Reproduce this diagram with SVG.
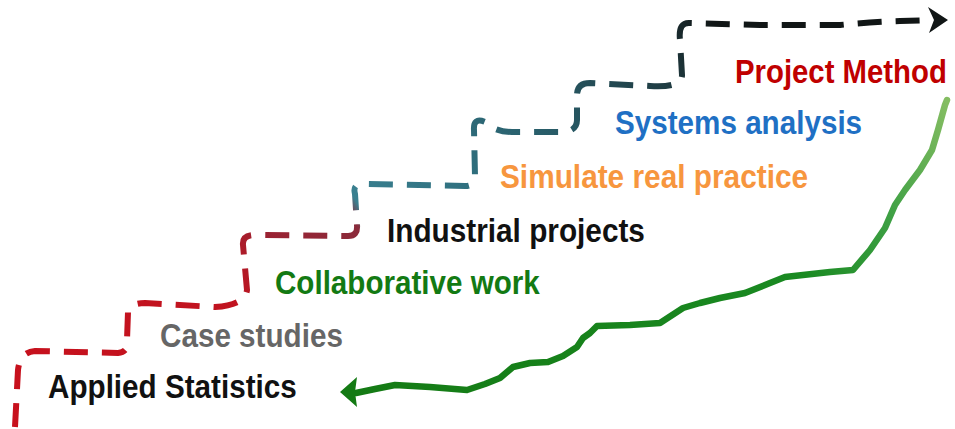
<svg xmlns="http://www.w3.org/2000/svg" width="955" height="429" viewBox="0 0 955 429">
  <defs>
    <!-- colour ramp along the climbing dashed staircase -->
    <linearGradient id="stairGrad" gradientUnits="userSpaceOnUse" x1="0" y1="429" x2="700" y2="0">
      <stop offset="0" stop-color="#c8101c"/>
      <stop offset="0.33" stop-color="#c01420"/>
      <stop offset="0.40" stop-color="#9a2232"/>
      <stop offset="0.50" stop-color="#8a2a3a"/>
      <stop offset="0.515" stop-color="#3a8090"/>
      <stop offset="0.65" stop-color="#2f6f7e"/>
      <stop offset="0.80" stop-color="#265560"/>
      <stop offset="0.92" stop-color="#1f3a40"/>
      <stop offset="1" stop-color="#111616"/>
    </linearGradient>
    <!-- colour ramp along the returning green curve -->
    <linearGradient id="greenGrad" gradientUnits="userSpaceOnUse" x1="342" y1="392" x2="947" y2="103">
      <stop offset="0" stop-color="#147a14"/>
      <stop offset="0.7" stop-color="#1a8a22"/>
      <stop offset="0.85" stop-color="#3ea044"/>
      <stop offset="1" stop-color="#84bd62"/>
    </linearGradient>
    <style>
      .lbl { font-family: "Liberation Sans", Arial, sans-serif; font-weight: bold; font-size: 33px; }
      .stair { fill: none; stroke: url(#stairGrad); stroke-width: 6; stroke-dasharray: 24 14; stroke-linejoin: round; }
      .curve { fill: none; stroke: url(#greenGrad); stroke-width: 6.5; stroke-linejoin: round; stroke-linecap: round; }
    </style>
  </defs>

  <rect width="955" height="429" fill="#ffffff"/>

  <g id="connectors">
    <!-- dashed staircase climbing to the top-right arrow -->
    <path class="stair" d="M 15 427 L 18 370 Q 20 352 35 351 L 118 353 Q 129 352 127 340 L 128 312 Q 130 303 145 303 L 215 307 Q 245 305 247 290 L 243 245 Q 242 235 255 235 L 348 236 Q 358 236 357 225 L 355 194 Q 352 183 365 184 L 465 186 Q 475 186 475 176 L 474 130 Q 473 117 485 122 Q 495 132 512 132 L 565 132 Q 577 130 577 120 L 577 95 Q 577 83 590 83 L 650 86 Q 682 88 682 75 L 680 40 Q 678 22 690 23 L 760 25 L 840 25 Q 870 22 900 21 L 932 20"/>
    <polygon points="928,7 948,20 929,33 934,20" fill="#111616"/>

    <!-- green curve descending back to the start -->
    <polyline class="curve" points="947,100 945,105 938,130 932,150 920,170 905,190 895,205 885,228 870,250 853,270 830,272 785,277 770,283 745,293 720,298 700,303 683,308 660,323 630,325 597,326 590,333 583,338 577,347 563,356 548,362 530,363 513,367 500,378 485,384 467,390 430,387 395,385 375,389 356,393"/>
    <polygon points="340,392 357,377 355,392 357,407" fill="#147a14"/>
  </g>

  <!-- labels use a condensed bold face: Arial-width glyphs squeezed to 90% -->
  <g id="node-project-method">
    <text class="lbl" transform="translate(735 83) scale(0.889 1)" fill="#c00000">Project Method</text>
  </g>
  <g id="node-systems-analysis">
    <text class="lbl" transform="translate(615 134) scale(0.898 1)" fill="#1f70c4">Systems analysis</text>
  </g>
  <g id="node-simulate-real-practice">
    <text class="lbl" transform="translate(500 188) scale(0.903 1)" fill="#f7963e">Simulate real practice</text>
  </g>
  <g id="node-industrial-projects">
    <text class="lbl" transform="translate(387 242) scale(0.902 1)" fill="#111111">Industrial projects</text>
  </g>
  <g id="node-collaborative-work">
    <text class="lbl" transform="translate(275 294) scale(0.897 1)" fill="#137a13">Collaborative work</text>
  </g>
  <g id="node-case-studies">
    <text class="lbl" transform="translate(160 347) scale(0.899 1)" fill="#666666">Case studies</text>
  </g>
  <g id="node-applied-statistics">
    <text class="lbl" transform="translate(48 398) scale(0.899 1)" fill="#111111">Applied Statistics</text>
  </g>
</svg>
